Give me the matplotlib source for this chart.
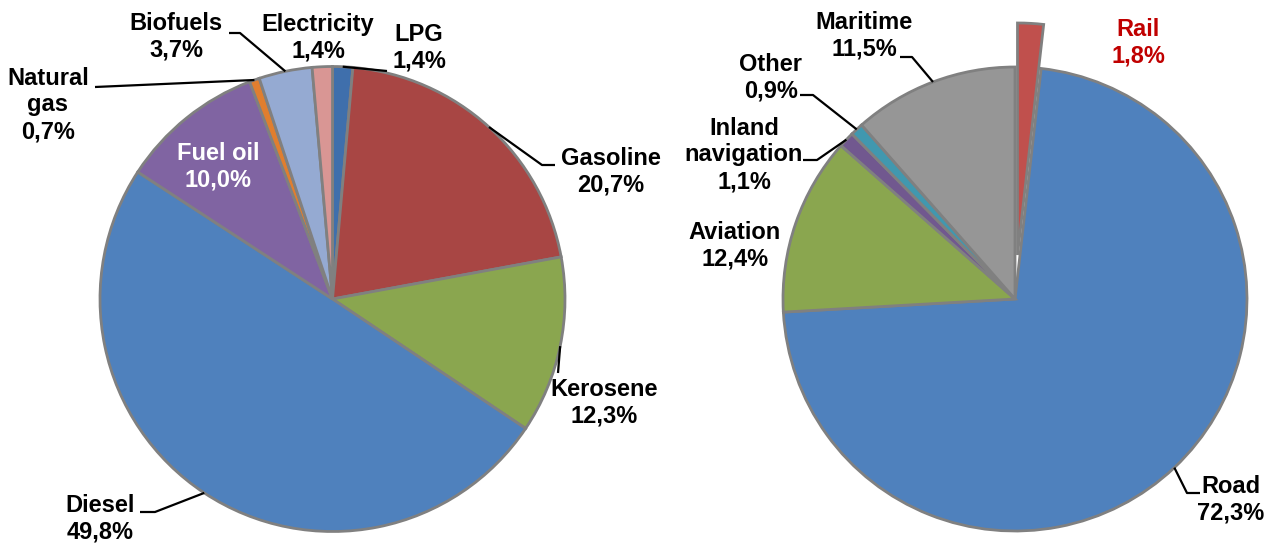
import numpy as np
from matplotlib import pyplot as plt

# left pie: transport energy use by fuel
fuel_names = ["LPG", "Gasoline", "Kerosene", "Diesel", "Fuel oil", "Natural\ngas", "Biofuels", "Electricity"]
fuel_shares = [1.4, 20.7, 12.3, 49.8, 10.0, 0.7, 3.7, 1.4]
fuel_colors = ["#3F6FAC", "#A84644", "#8AA64F", "#4F81BD", "#8064A2", "#E07E2F", "#95AAD2", "#D99694"]

# right pie: by transport mode
mode_names = ["Rail", "Road", "Aviation", "Inland\nnavigation", "Other", "Maritime"]
mode_shares = [1.8, 72.3, 12.4, 1.1, 0.9, 11.5]
mode_colors = ["#C0504D", "#4F81BD", "#8AA64F", "#71588F", "#4198AF", "#969696"]
mode_explode = [0.19, 0, 0, 0, 0, 0]   # fraction of radius

W, H = 1269, 544

# label layout in pixel coords (x, y from top), elbow points of leader lines
fuel_text = [(419, 48), (611, 172), (604, 403), (100, 519), (218, 167), (48, 105), (176, 37), (318, 38)]
fuel_elbow = [[(387, 71)], [(542, 165), (555, 165)], [(558, 373)], [(155, 512), (140, 512)],
              None, [(95, 87)], [(240, 33), (229, 33)], None]
mode_text = [(1138, 43), (1231, 500), (735, 246), (744, 155), (771, 78), (864, 36)]
mode_elbow = [None, [(1187, 493), (1200, 493)], None, [(817, 160), (803, 160)],
              [(813, 95), (800, 95)], [(912, 57), (900, 57)]]


def fmt(name, v):
    return f"{name}\n{v:.1f}%".replace(".", ",")


def draw(ax, center, radius, shares, names, colors, texts, elbows, explode=None, text_colors=None):
    cx, cy = center
    if explode is not None:
        explode = [e * radius for e in explode]   # pie() takes absolute offsets
    wedges, _ = ax.pie(shares, colors=colors, startangle=90, counterclock=False,
                       center=(cx, H - cy), radius=radius, explode=explode,
                       wedgeprops=dict(edgecolor="#808080", linewidth=2.0))
    for i, w in enumerate(wedges):
        tx, ty = texts[i]
        tc = text_colors[i] if text_colors else "black"
        ax.text(tx, H - ty, fmt(names[i], shares[i]), ha="center", va="center",
                fontsize=17, fontweight="bold", color=tc, linespacing=1.2)
        if elbows[i]:
            mid = np.radians((w.theta1 + w.theta2) / 2)
            px = cx + radius * np.cos(mid)
            py = (H - cy) + radius * np.sin(mid)
            xs = [px] + [p[0] for p in elbows[i]]
            ys = [py] + [H - p[1] for p in elbows[i]]
            ax.plot(xs, ys, color="black", lw=1.6, solid_capstyle="butt")


plt.rcParams["font.family"] = ["Liberation Sans", "DejaVu Sans"]
fig = plt.figure(figsize=(W / 100, H / 100), dpi=100)
ax = fig.add_axes([0, 0, 1, 1])

fuel_tc = ["black"] * len(fuel_names)
fuel_tc[4] = "white"
draw(ax, (332.5, 299), 232.5, fuel_shares, fuel_names, fuel_colors, fuel_text, fuel_elbow,
     text_colors=fuel_tc)

mode_tc = ["black"] * len(mode_names)
mode_tc[0] = "#C00000"
draw(ax, (1015, 299), 232, mode_shares, mode_names, mode_colors, mode_text, mode_elbow,
     explode=mode_explode, text_colors=mode_tc)

ax.set_xlim(0, W)
ax.set_ylim(0, H)
ax.set_aspect("equal")
ax.axis("off")

fig.savefig("out.png", dpi=100)
